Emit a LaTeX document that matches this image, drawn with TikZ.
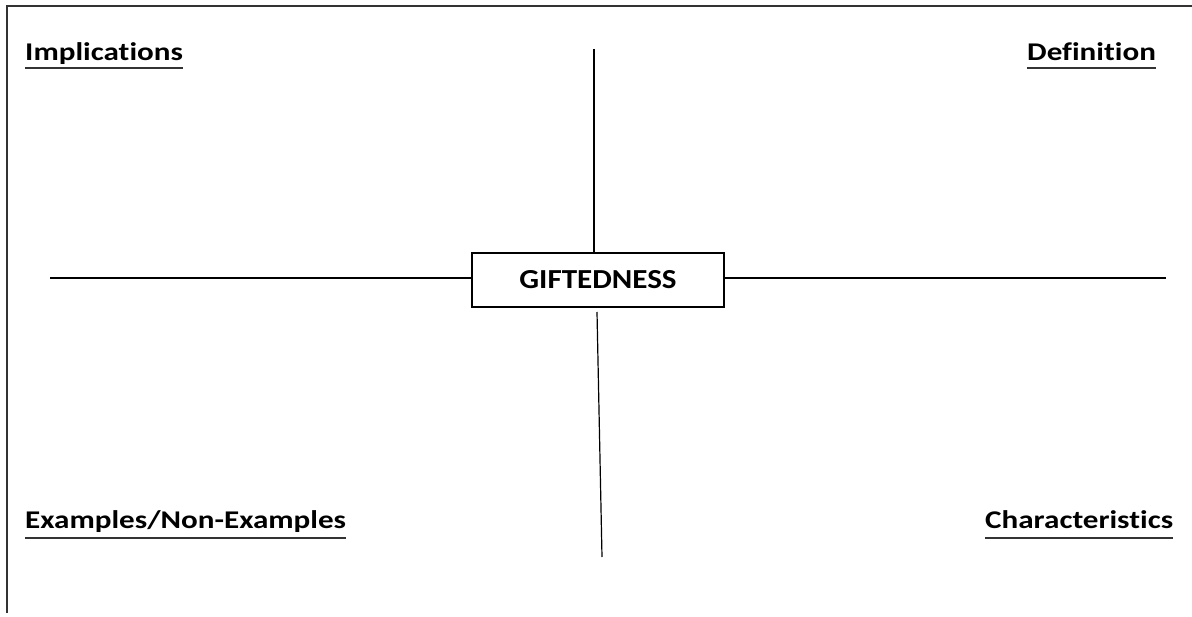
\documentclass[tikz,border=0pt]{standalone}
\usepackage{fontspec}
\setmainfont{Carlito}
\newfontfamily\labfont{Carlito}[FakeStretch=1.22,Ligatures=NoCommon]
\newfontfamily\boxfont{Carlito}[FakeStretch=1.13,Ligatures=NoCommon]
\begin{document}
\begin{tikzpicture}[x=1pt,y=-1pt,
  label/.style={font=\labfont\fontsize{25.5}{30}\selectfont\bfseries, inner sep=0pt, anchor=base west},
  uline/.style={line width=2pt, draw=black!80},
  frameline/.style={line width=1.6pt, draw=black!80},
  arm/.style={line width=1.2pt, draw=black},
  centerbox/.style={draw, line width=1.2pt, minimum width=252pt, minimum height=54pt, inner sep=0pt, font=\boxfont\fontsize{27.5}{32}\selectfont\bfseries}]
\useasboundingbox (0,0) rectangle (1192,617);
\fill[white] (0,0) rectangle (1192,617);
% frame (top and left sides)
\coordinate (fbl) at (7,613);
\coordinate (ftl) at (7,6);
\coordinate (ftr) at (1192,6);
\draw[frameline] (fbl) -- (ftl) -- (ftr);
% centre box
\node[centerbox] (g) at (598,280) {GIFTEDNESS};
% arms
\coordinate (topend) at (594,49);
\coordinate (botstart) at (597,312);
\coordinate (botend) at (602,557);
\coordinate (leftend) at (50,278);
\coordinate (rightend) at (1166,278);
\draw[arm] (topend) -- (topend |- g.north);
\draw[arm] (botstart) -- (botend);
\draw[arm] (leftend) -- (g.west |- leftend);
\draw[arm] (g.east |- rightend) -- (rightend);
% labels
\node[label] (imp) at (25,61) {Implications};
\node[label] (def) at (1027,61) {Definition};
\node[label] (ex) at (25,529) {Examples/Non-Examples};
\node[label] (ch) at (985,529) {Characteristics};
% underlines
\draw[uline] ([yshift=-6.8pt]imp.base west) -- ([yshift=-6.8pt]imp.base east);
\draw[uline] ([yshift=-6.8pt]def.base west) -- ([yshift=-6.8pt]def.base east);
\draw[uline] ([yshift=-9pt]ex.base west) -- ([yshift=-9pt]ex.base east);
\draw[uline] ([yshift=-9pt]ch.base west) -- ([yshift=-9pt]ch.base east);
\end{tikzpicture}
\end{document}
